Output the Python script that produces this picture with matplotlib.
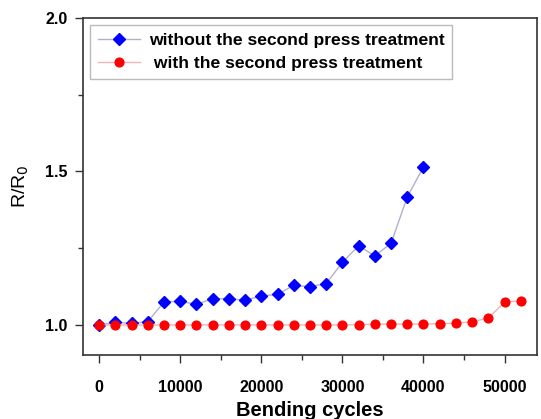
import matplotlib
matplotlib.use('Agg')
import matplotlib.pyplot as plt
from matplotlib.ticker import MultipleLocator

plt.rcParams['font.family'] = ['Liberation Sans', 'DejaVu Sans']

# data
cycles_no_press = [0, 2000, 4000, 6000, 8000, 10000, 12000, 14000, 16000, 18000, 20000,
                   22000, 24000, 26000, 28000, 30000, 32000, 34000, 36000, 38000, 40000]
r_no_press = [1.000, 1.009, 1.005, 1.011, 1.075, 1.077, 1.067, 1.086, 1.085, 1.081, 1.094,
              1.100, 1.129, 1.125, 1.135, 1.204, 1.258, 1.225, 1.266, 1.417, 1.515]

cycles_press = [0, 2000, 4000, 6000, 8000, 10000, 12000, 14000, 16000, 18000, 20000,
                22000, 24000, 26000, 28000, 30000, 32000, 34000, 36000, 38000, 40000,
                42000, 44000, 46000, 48000, 50000, 52000]
r_press = [1.000, 1.000, 1.000, 1.000, 1.000, 1.000, 1.000, 1.000, 1.000, 1.000, 1.000,
           1.000, 1.000, 1.000, 1.000, 1.000, 1.001, 1.002, 1.003, 1.003, 1.003,
           1.004, 1.006, 1.010, 1.023, 1.074, 1.079]

labels = ['without the second press treatment', ' with the second press treatment']

fig = plt.figure(figsize=(5.41, 4.19), dpi=100, facecolor='white')
ax = fig.add_axes([0.1534, 0.1527, 0.8392, 0.8043])

ax.plot(cycles_no_press, r_no_press, color='#b0b0cc', lw=1.0, marker='D', ms=5.8,
        mfc='#0000ff', mec='#0000ff', label=labels[0], zorder=3)
ax.plot(cycles_press, r_press, color='#f0b4b4', lw=1.0, marker='o', ms=6.3,
        mfc='#ff0000', mec='#ff0000', label=labels[1], zorder=4)

ax.set_xlim(-2000, 54000)
ax.set_ylim(0.902, 2.0)
ax.xaxis.set_major_locator(MultipleLocator(10000))
ax.xaxis.set_minor_locator(MultipleLocator(5000))
ax.yaxis.set_major_locator(MultipleLocator(0.5))
ax.yaxis.set_minor_locator(MultipleLocator(0.25))
ax.set_yticks([1.0, 1.5, 2.0])

ax.tick_params(which='both', direction='out', top=False, right=False, color='#333333', width=1.0)
ax.tick_params(which='major', length=6, labelsize=11.5)
ax.tick_params(which='minor', length=3.5)
ax.tick_params(axis='x', which='major', pad=12)
ax.tick_params(axis='y', which='major', pad=5)
for lab in ax.get_xticklabels() + ax.get_yticklabels():
    lab.set_fontweight('bold')
for sp in ax.spines.values():
    sp.set_color('#333333')
    sp.set_linewidth(1.2)

ax.set_xlabel('Bending cycles', fontsize=14.5, fontweight='bold', labelpad=4)
ax.set_ylabel(r'R/R$_0$', fontsize=14, labelpad=10)

leg = ax.legend(loc='upper left', bbox_to_anchor=(0.0, 1.0),
                prop={'weight': 'bold', 'size': 12.6}, frameon=True, fancybox=False,
                edgecolor='#aaaaaa', handlelength=2.4, handletextpad=0.5,
                borderpad=0.45, labelspacing=0.45, borderaxespad=0.4)
leg.get_frame().set_linewidth(1.0)

fig.savefig('out.png', dpi=100, facecolor='white')
